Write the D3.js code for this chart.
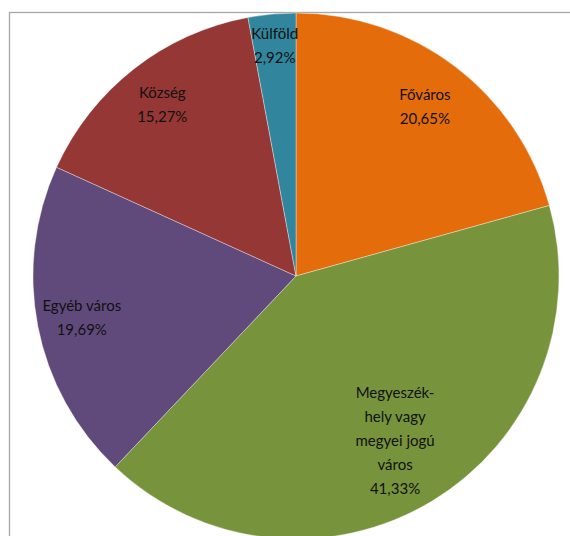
<!DOCTYPE html>
<html><head><meta charset="utf-8">
<script src="https://cdn.jsdelivr.net/npm/d3@7"></script>
<style>body{margin:0;background:#fff}svg{display:block}</style>
</head><body>
<script>
const categories = ["Főváros", "Megyeszék-hely vagy megyei jogú város", "Egyéb város", "Község", "Külföld"];
const labelLines = [["Főváros"], ["Megyeszék-", "hely vagy", "megyei jogú", "város"], ["Egyéb város"], ["Község"], ["Külföld"]];
const values = [20.65, 41.33, 19.69, 15.27, 2.92];
const valueLabels = ["20,65%", "41,33%", "19,69%", "15,27%", "2,92%"];
const colors = ["#E46C0A", "#77933C", "#604A7B", "#953735", "#31859C"];

const W = 570, H = 536;
const cx = 296, cy = 276, R = 263;
const labelFactor = [0.81, 0.73, 0.83, 0.825, 0.88];

const svg = d3.select("body").append("svg").attr("width", W).attr("height", H);
svg.append("rect").attr("x", 9.5).attr("y", 12.5).attr("width", 600).attr("height", 600)
  .attr("fill", "#fff").attr("stroke", "#a6a6a6").attr("stroke-width", 1.3);

const pie = d3.pie().sort(null).value(d => d)(values);
const arc = d3.arc().innerRadius(0).outerRadius(R);
const g = svg.append("g").attr("transform", `translate(${cx},${cy})`);
g.selectAll("path").data(pie).join("path")
  .attr("d", arc).attr("fill", (d, i) => colors[i])
  .attr("stroke", "#fff").attr("stroke-width", 0.6).attr("stroke-opacity", 0.6);

const lh = 24;
pie.forEach((d, i) => {
  const r = R * labelFactor[i];
  const c = d3.arc().innerRadius(r).outerRadius(r).centroid(d);
  const lines = labelLines[i].concat([valueLabels[i]]);
  const t = g.append("text").attr("text-anchor", "middle")
    .attr("font-family", "Lato, 'Open Sans', sans-serif").attr("font-size", 15).attr("fill", "#111");
  lines.forEach((s, j) => {
    t.append("tspan").attr("x", c[0])
      .attr("y", c[1] + (j - (lines.length - 1) / 2) * lh).attr("dy", "0.35em").text(s);
  });
});
</script>
</body></html>
